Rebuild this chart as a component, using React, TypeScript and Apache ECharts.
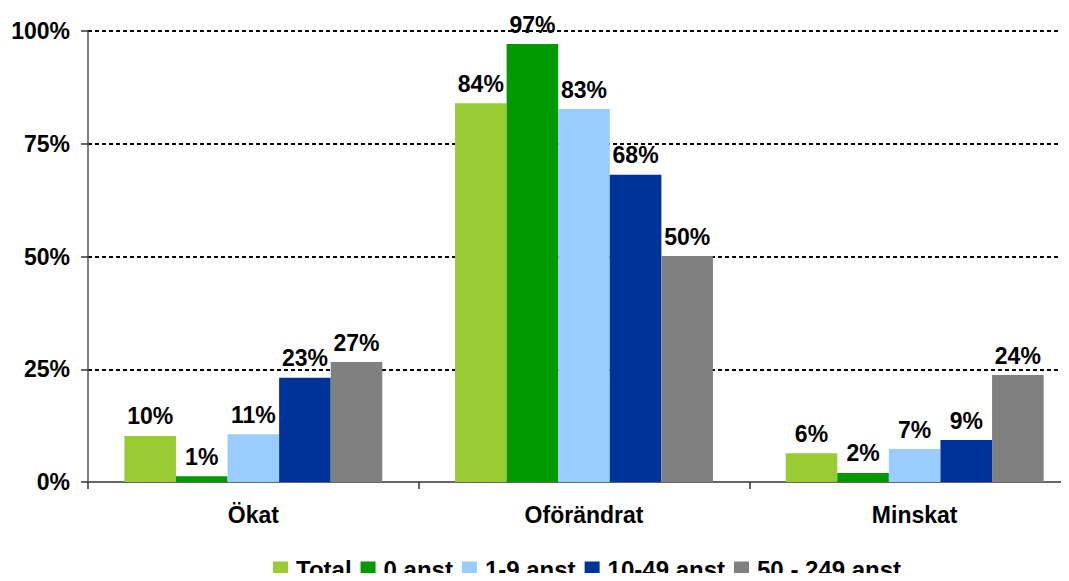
import React, { useEffect, useRef } from "react";
import * as echarts from "echarts";

const categories = ["Ökat", "Oförändrat", "Minskat"];
const seriesNames = ["Total", "0 anst", "1-9 anst", "10-49 anst", "50 - 249 anst"];
const total = [10.2, 84.0, 6.4];
const anst0 = [1.3, 97.1, 2.0];
const anst1to9 = [10.6, 82.7, 7.3];
const anst10to49 = [23.1, 68.1, 9.3];
const anst50to249 = [26.6, 50.1, 23.7];
const yTicks = [0, 25, 50, 75, 100];
const colors = ["#99CC33", "#009900", "#99CCFF", "#003399", "#808080"];

const FONT = "Liberation Sans, Arial, Helvetica, sans-serif";

export default function App() {
  const ref = useRef<HTMLDivElement>(null);
  useEffect(() => {
    if (!ref.current) return;
    const chart = echarts.init(ref.current, undefined, { renderer: "svg" });
    const data = [total, anst0, anst1to9, anst10to49, anst50to249];
    chart.setOption({
      animation: false,
      backgroundColor: "#ffffff",
      textStyle: { fontFamily: FONT },
      grid: { left: 88, right: 0, top: 31, bottom: 99, containLabel: false },
      legend: {
        left: 268,
        top: 552,
        itemWidth: 15,
        itemHeight: 15,
        itemGap: 9,
        icon: "rect",
        data: seriesNames,
        textStyle: {
          fontFamily: FONT,
          fontSize: 24,
          lineHeight: 22,
          fontWeight: "bold",
          color: "#000",
          padding: [0, 0, 0, 3],
        },
      },
      xAxis: {
        type: "category",
        data: categories,
        axisLine: { lineStyle: { color: "#666", width: 2 } },
        axisTick: { show: true, length: 7, lineStyle: { color: "#333", width: 1.5 } },
        axisLabel: {
          margin: 21,
          fontFamily: FONT,
          fontSize: 23,
          fontWeight: "bold",
          color: "#000",
        },
      },
      yAxis: {
        type: "value",
        min: yTicks[0],
        max: yTicks[yTicks.length - 1],
        interval: 25,
        axisLine: { show: true, lineStyle: { color: "#555", width: 1.5 } },
        axisTick: { show: true, length: 7, lineStyle: { color: "#333", width: 1.5 } },
        axisLabel: {
          margin: 18,
          fontFamily: FONT,
          fontSize: 23,
          fontWeight: "bold",
          color: "#000",
          formatter: (v: number) => `${v}%`,
        },
        splitLine: {
          show: true,
          lineStyle: { color: "#000", width: 2, type: [4, 3] },
        },
      },
      series: seriesNames.map((name, i) => ({
        name,
        type: "bar",
        data: data[i],
        barGap: "0%",
        barCategoryGap: "22%",
        itemStyle: { color: colors[i] },
        label: {
          show: true,
          position: "top",
          distance: 8,
          fontFamily: FONT,
          fontSize: 23,
          fontWeight: "bold",
          color: "#000",
          formatter: (p: any) => `${Math.round(p.value)}%`,
        },
      })),
    });
    return () => chart.dispose();
  }, []);
  return (
    <div style={{ width: 1069, height: 581, margin: -8, overflow: "hidden" }}>
      <div ref={ref} style={{ width: 1080, height: 581 }} />
    </div>
  );
}
